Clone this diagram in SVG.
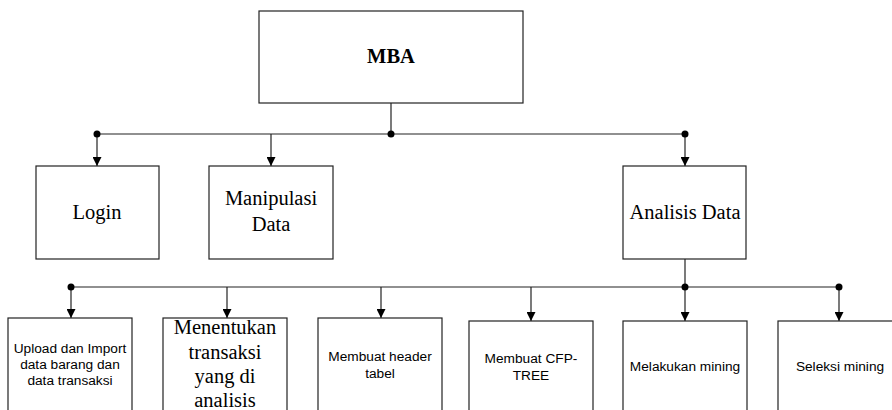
<svg xmlns="http://www.w3.org/2000/svg" width="892" height="410" viewBox="0 0 892 410">
<style>
.box{fill:#fff;stroke:#222;stroke-width:1.2}
.ln{fill:none;stroke:#222;stroke-width:1.2}
.dot{fill:#000}
.tr{font-family:"Liberation Serif",serif;font-size:20.5px;fill:#000;text-anchor:middle}
.ar{font-family:"Liberation Sans",sans-serif;font-size:13.7px;fill:#000;text-anchor:middle}
</style>
<defs>
<marker id="ah" viewBox="0 0 10 10" refX="10" refY="5" markerWidth="9" markerHeight="9" markerUnits="userSpaceOnUse" orient="auto">
<path d="M0,0 L10,5 L0,10 Z" fill="#000"/>
</marker>
</defs>
<rect width="892" height="410" fill="#fff"/>
<g id="connectors">
<path class="ln" d="M391,103 V134"/>
<path class="ln" d="M97,134 H685"/>
<path class="ln" d="M97,134 V166" marker-end="url(#ah)"/>
<path class="ln" d="M271,134 V166" marker-end="url(#ah)"/>
<path class="ln" d="M685,134 V166" marker-end="url(#ah)"/>
<circle class="dot" cx="97" cy="134" r="3.5"/>
<circle class="dot" cx="391" cy="134" r="3.5"/>
<circle class="dot" cx="685" cy="134" r="3.5"/>
<path class="ln" d="M685,259 V287"/>
<path class="ln" d="M71,287 H839"/>
<path class="ln" d="M71,287 V318" marker-end="url(#ah)"/>
<path class="ln" d="M227,287 V318" marker-end="url(#ah)"/>
<path class="ln" d="M381,287 V318" marker-end="url(#ah)"/>
<path class="ln" d="M531,287 V321" marker-end="url(#ah)"/>
<path class="ln" d="M685,287 V321" marker-end="url(#ah)"/>
<path class="ln" d="M839,287 V321" marker-end="url(#ah)"/>
<circle class="dot" cx="71" cy="287" r="3.5"/>
<circle class="dot" cx="685" cy="287" r="3.5"/>
<circle class="dot" cx="839" cy="287" r="3.5"/>
</g>
<g id="mba">
<rect class="box" x="259" y="11" width="264" height="92"/>
<text class="tr" x="391" y="63" font-weight="bold">MBA</text>
</g>
<g id="login">
<rect class="box" x="36" y="166" width="123" height="93"/>
<text class="tr" x="97" y="219">Login</text>
</g>
<g id="manipulasi">
<rect class="box" x="209" y="166" width="124" height="93"/>
<text class="tr" x="271" y="205">Manipulasi</text>
<text class="tr" x="271" y="231">Data</text>
</g>
<g id="analisis">
<rect class="box" x="623" y="166" width="123" height="93"/>
<text class="tr" x="685" y="219">Analisis Data</text>
</g>
<g id="upload">
<rect class="box" x="8" y="318" width="124" height="100"/>
<text class="ar" x="70" y="353">Upload dan Import</text>
<text class="ar" x="70" y="369">data barang dan</text>
<text class="ar" x="70" y="385">data transaksi</text>
</g>
<g id="menentukan">
<rect class="box" x="163" y="318" width="124" height="100"/>
<text class="tr" x="225" y="334">Menentukan</text>
<text class="tr" x="225" y="359">transaksi</text>
<text class="tr" x="225" y="383">yang di</text>
<text class="tr" x="225" y="407">analisis</text>
</g>
<g id="header">
<rect class="box" x="318" y="318" width="124" height="100"/>
<text class="ar" x="380" y="361">Membuat header</text>
<text class="ar" x="380" y="378">tabel</text>
</g>
<g id="cfp">
<rect class="box" x="469" y="321" width="124" height="100"/>
<text class="ar" x="531" y="363">Membuat CFP-</text>
<text class="ar" x="531" y="380">TREE</text>
</g>
<g id="melakukan">
<rect class="box" x="623" y="321" width="124" height="100"/>
<text class="ar" x="685" y="371">Melakukan mining</text>
</g>
<g id="seleksi">
<rect class="box" x="778" y="321" width="124" height="100"/>
<text class="ar" x="840" y="371">Seleksi mining</text>
</g>
</svg>
